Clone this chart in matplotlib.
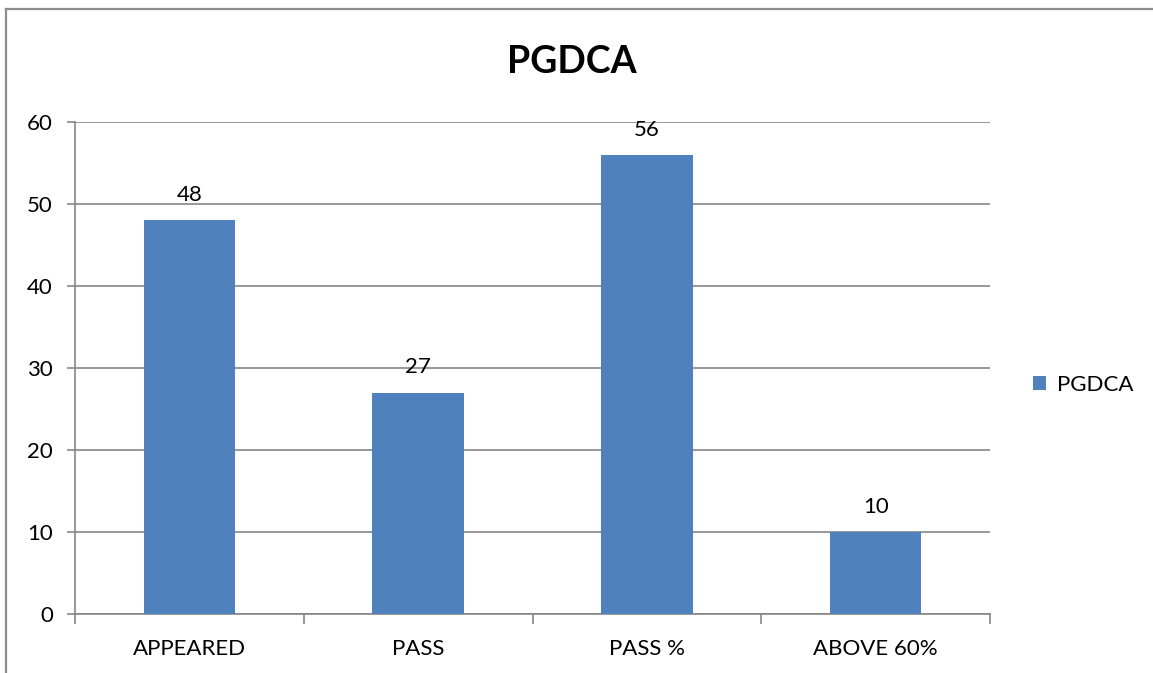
import matplotlib
matplotlib.use("Agg")
import matplotlib.pyplot as plt
from matplotlib.lines import Line2D

categories = ["APPEARED", "PASS", "PASS %", "ABOVE 60%"]
values = [48, 27, 56, 10]
series_name = "PGDCA"
title = "PGDCA"
yticks = [0, 10, 20, 30, 40, 50, 60]

plt.rcParams['font.family'] = ['Lato', 'DejaVu Sans']
bar_color = "#4F81BD"
grid_color = "#868686"

fig = plt.figure(figsize=(11.53, 6.73), dpi=100)
ax = fig.add_axes([75/1153, 1-614/673, (990-75)/1153, (614-122)/673])

x = range(len(categories))
ax.bar(x, values, width=0.4, color=bar_color, label=series_name, zorder=3)
for xi, v in zip(x, values):
    ax.annotate(str(v), (xi, v), xytext=(0, 11), textcoords="offset points",
                ha="center", va="bottom", fontsize=16, color="black")

ax.set_xlim(-0.5, len(categories) - 0.5)
ax.set_ylim(0, 60)
ax.set_yticks(yticks)
ax.set_yticklabels([str(t) for t in yticks], fontsize=16)
ax.yaxis.grid(True, color=grid_color, linewidth=1.2, zorder=0)
ax.set_axisbelow(True)

ax.set_xticks(list(x))
ax.set_xticklabels(categories, fontsize=16)
ax.tick_params(axis='x', length=0, pad=18)
ax.set_xticks([i - 0.5 for i in range(len(categories) + 1)], minor=True)
ax.tick_params(axis='x', which='minor', length=7, width=1.2, color=grid_color)
ax.tick_params(axis='y', length=6, width=1.2, color=grid_color, pad=10)

for s in ["top", "right"]:
    ax.spines[s].set_visible(False)
for s in ["left", "bottom"]:
    ax.spines[s].set_color(grid_color)
    ax.spines[s].set_linewidth(1.2)

fig.text(572/1153, 1-62/673, title, ha="center", va="center",
         fontsize=27, fontweight="bold")

ax.legend(loc="center left", bbox_to_anchor=(1.025, 0.465), frameon=False,
          fontsize=16, handlelength=0.6, handleheight=0.6, handletextpad=0.5)

# outer chart border (top and left edges)
top_y = 1 - 9/673
left_x = 6/1153
fig.add_artist(Line2D([left_x, 1.01], [top_y, top_y], transform=fig.transFigure,
                      color="#8C8C8C", linewidth=1.6))
fig.add_artist(Line2D([left_x, left_x], [-0.01, top_y], transform=fig.transFigure,
                      color="#8C8C8C", linewidth=1.6))

fig.savefig("out.png", dpi=100)
